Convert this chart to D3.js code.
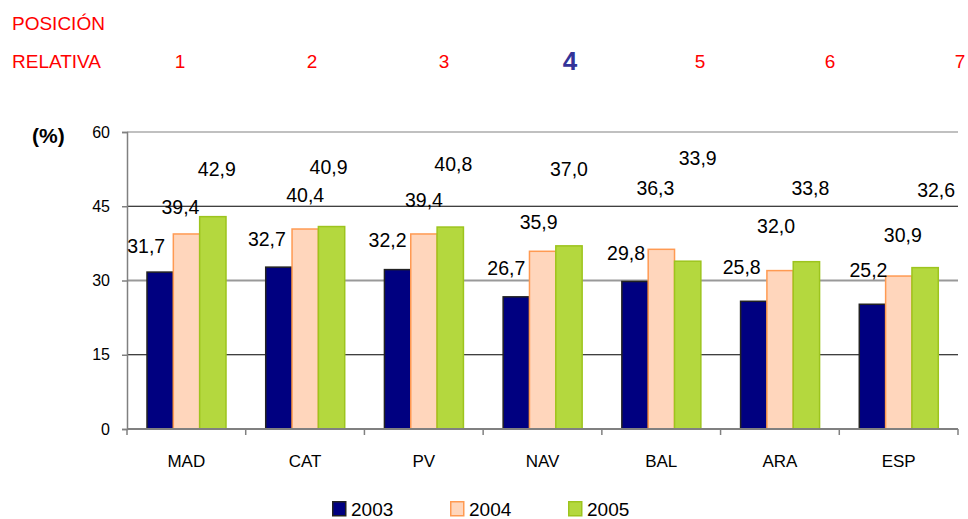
<!DOCTYPE html>
<html>
<head>
<meta charset="utf-8">
<script src="https://cdn.jsdelivr.net/npm/d3@7/dist/d3.min.js"></script>
<style>
  html, body { margin: 0; padding: 0; background: #fff; }
  svg { display: block; font-family: "Liberation Sans", Arial, sans-serif; }
</style>
</head>
<body>
<svg id="chart" width="968" height="519"></svg>
<script>
// ---- data ----
const categories = ["MAD", "CAT", "PV", "NAV", "BAL", "ARA", "ESP"];
const seriesNames = ["2003", "2004", "2005"];
const values2003 = [31.7, 32.7, 32.2, 26.7, 29.8, 25.8, 25.2];
const values2004 = [39.4, 40.4, 39.4, 35.9, 36.3, 32.0, 30.9];
const values2005 = [42.9, 40.9, 40.8, 37.0, 33.9, 33.8, 32.6];
const ranks = [1, 2, 3, 4, 5, 6, 7];
const highlightedRank = 4;
const yTicks = [0, 15, 30, 45, 60];

// ---- layout / style ----
const svg = d3.select("#chart");
const margin = { left: 127, top: 132 };
const plotRight = 958, plotBottom = 429;
const colors = {
  "2003": { fill: "#000080", stroke: "#222222" },
  "2004": { fill: "#FFD6BC", stroke: "#FF9A52" },
  "2005": { fill: "#B4D83E", stroke: "#9DC41E" }
};
// manual label nudges [dx, dy] relative to bar centre / bar top (as laid out in the original)
const labelNudge = [
  [[-14,-26],[-6,-27],[4,-48]],
  [[-12,-28],[0,-34],[-3,-60]],
  [[-10,-30],[0,-34],[3,-63]],
  [[-10,-29],[-4,-29],[0,-77]],
  [[-9,-28],[-6,-61],[10,-103]],
  [[-12,-34],[-4,-45],[4,-74]],
  [[-4,-34],[4,-41],[11,-78]]
];

const seriesValues = [values2003, values2004, values2005];

const x = d3.scaleBand().domain(categories).range([margin.left, plotRight]).paddingInner(0).paddingOuter(0);
const xs = d3.scaleBand().domain(seriesNames).range([20, 99]).padding(0);
const y = d3.scaleLinear().domain([0, 60]).range([plotBottom, margin.top]);

// gridlines
const gridStyle = { 60: ["#c0c0c0", 2], 45: ["#000000", 1.2], 30: ["#999999", 2], 15: ["#000000", 1.2] };
svg.append("g").selectAll("line").data(yTicks.filter(d => d > 0)).join("line")
  .attr("x1", margin.left).attr("x2", plotRight)
  .attr("y1", d => y(d)).attr("y2", d => y(d))
  .attr("stroke", d => gridStyle[d][0]).attr("stroke-width", d => gridStyle[d][1]);

// bars
const groups = svg.append("g").selectAll("g").data(categories).join("g")
  .attr("transform", d => `translate(${x(d)},0)`);
groups.selectAll("rect").data((c, i) => seriesNames.map((s, j) => ({ s, v: seriesValues[j][i] })))
  .join("rect")
  .attr("x", d => xs(d.s))
  .attr("width", xs.bandwidth())
  .attr("y", d => y(d.v))
  .attr("height", d => y(0) - y(d.v))
  .attr("fill", d => colors[d.s].fill)
  .attr("stroke", d => colors[d.s].stroke)
  .attr("stroke-width", 1.5);

// y axis
const yAxis = d3.axisLeft(y).tickValues(yTicks).tickSize(5).tickPadding(12).tickFormat(d3.format("d"));
const ya = svg.append("g").attr("transform", `translate(${margin.left},0)`).call(yAxis);
ya.select(".domain").attr("stroke", "#808080").attr("stroke-width", 1.5);
ya.selectAll(".tick line").attr("stroke", "#808080").attr("stroke-width", 1.5);
ya.selectAll(".tick text").attr("font-size", 16).attr("fill", "#000")
  .attr("font-family", "Liberation Sans, Arial, sans-serif");

// x axis
const xa = svg.append("g").attr("transform", `translate(0,${plotBottom})`);
xa.append("line").attr("x1", margin.left).attr("x2", plotRight).attr("y1", 0).attr("y2", 0)
  .attr("stroke", "#808080").attr("stroke-width", 2);
xa.selectAll("line.t").data(d3.range(categories.length + 1)).join("line").attr("class", "t")
  .attr("x1", i => margin.left + i * x.bandwidth()).attr("x2", i => margin.left + i * x.bandwidth())
  .attr("y1", 0).attr("y2", 6).attr("stroke", "#808080").attr("stroke-width", 1.5);
xa.selectAll("text").data(categories).join("text")
  .attr("x", d => x(d) + x.bandwidth() / 2).attr("y", 38)
  .attr("text-anchor", "middle").attr("font-size", 17).attr("fill", "#000")
  .text(d => d);

// data labels
const fmt = v => d3.format(".1f")(v).replace(".", ",");
categories.forEach((c, i) => {
  seriesNames.forEach((s, j) => {
    const v = seriesValues[j][i];
    const cx = x(c) + xs(s) + xs.bandwidth() / 2 + labelNudge[i][j][0];
    const cy = y(v) + labelNudge[i][j][1];
    svg.append("text").attr("x", cx).attr("y", cy + 7)
      .attr("text-anchor", "middle").attr("font-size", 19.5).attr("fill", "#000")
      .text(fmt(v));
  });
});

// (%) label
svg.append("text").attr("x", 32).attr("y", 143).attr("font-size", 21).attr("font-weight", "bold")
  .attr("fill", "#000").text("(%)");

// header
svg.append("text").attr("x", 12).attr("y", 30).attr("font-size", 19).attr("fill", "#ff0000").text("POSICIÓN");
svg.append("text").attr("x", 12).attr("y", 68).attr("font-size", 19).attr("fill", "#ff0000").text("RELATIVA");
const rx = d3.scaleLinear().domain([1, 7]).range([180, 960]);
svg.append("g").selectAll("text").data(ranks).join("text")
  .attr("x", d => rx(d) + (d <= 3 ? (d - 1) * 2 : 0))
  .attr("y", d => d === highlightedRank ? 70 : 68)
  .attr("text-anchor", "middle")
  .attr("font-size", d => d === highlightedRank ? 26 : 19)
  .attr("font-weight", d => d === highlightedRank ? "bold" : "normal")
  .attr("fill", d => d === highlightedRank ? "#333399" : "#ff0000")
  .text(d => d);

// legend
const legendX = [332, 450, 568];
const lg = svg.append("g").selectAll("g").data(seriesNames).join("g")
  .attr("transform", (d, i) => `translate(${legendX[i]},501)`);
lg.append("rect").attr("x", 0.75).attr("y", 0.75).attr("width", 13).attr("height", 14)
  .attr("fill", d => colors[d].fill).attr("stroke", d => colors[d].stroke).attr("stroke-width", 1.5);
lg.append("text").attr("x", 19).attr("y", 15).attr("font-size", 19).attr("fill", "#000").text(d => d);
</script>
</body>
</html>
